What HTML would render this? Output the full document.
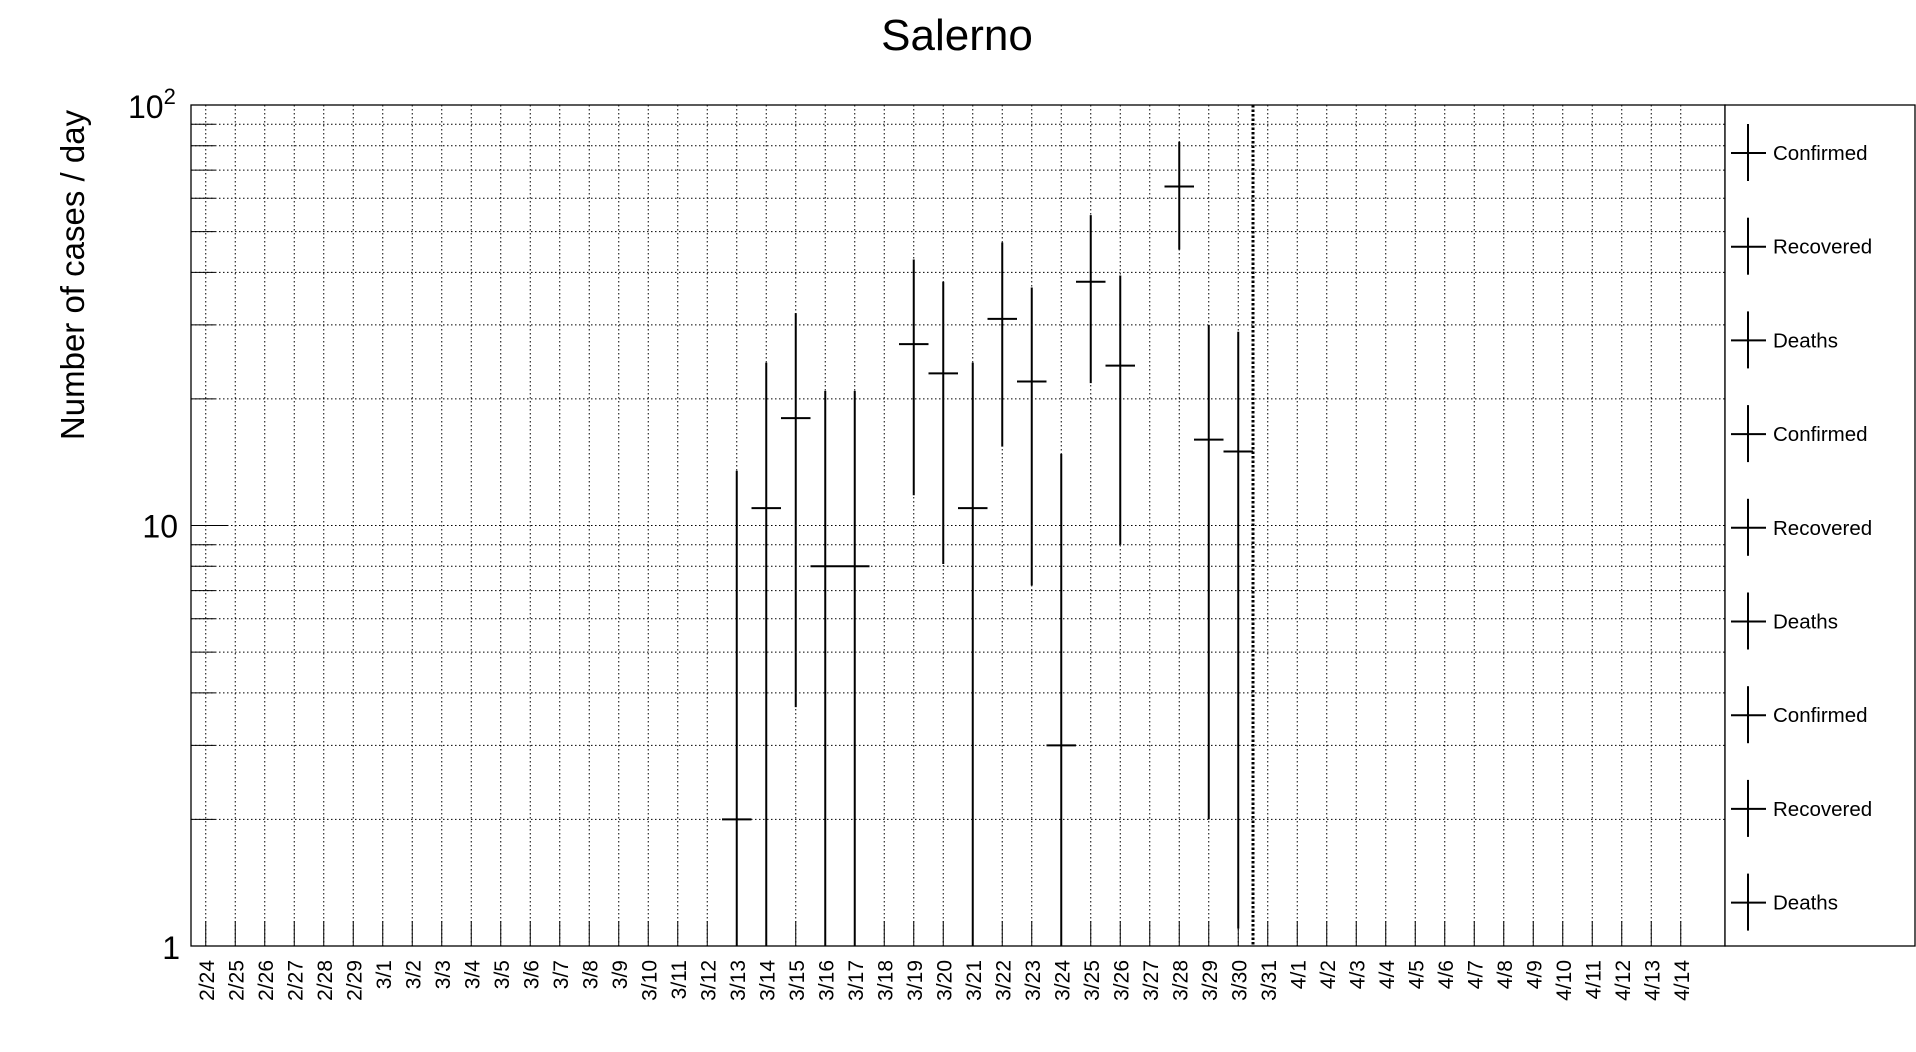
<!DOCTYPE html>
<html><head><meta charset="utf-8"><style>
body{margin:0;background:#fff;}
svg{display:block;font-family:"Liberation Sans",sans-serif;}
</style></head><body>
<svg id="chart" width="1916" height="1052">
<text x="957" y="50" font-size="44" text-anchor="middle">Salerno</text>
<text transform="translate(84,275) rotate(-90)" font-size="33" text-anchor="middle">Number of cases / day</text>
<g id="grid"></g><g id="axes"></g><g id="marks"></g><g id="legend"></g>
</svg>
<script>
const categories=["2/24","2/25","2/26","2/27","2/28","2/29","3/1","3/2","3/3","3/4","3/5","3/6","3/7","3/8","3/9","3/10","3/11","3/12","3/13","3/14","3/15","3/16","3/17","3/18","3/19","3/20","3/21","3/22","3/23","3/24","3/25","3/26","3/27","3/28","3/29","3/30","3/31","4/1","4/2","4/3","4/4","4/5","4/6","4/7","4/8","4/9","4/10","4/11","4/12","4/13","4/14"];
const pointDays=["3/13","3/14","3/15","3/16","3/17","3/19","3/20","3/21","3/22","3/23","3/24","3/25","3/26","3/28","3/29","3/30"];
const pointValues=[2,11,18,8,8,27,23,11,31,22,3,38,24,64,16,15];
const upperValues=[13.5,24.4,32,20.9,20.9,42.9,38,24.4,47.1,36.8,14.8,54.7,39.3,81.7,30,28.9];
const lowerValues=[0.5,0.5,3.7,0.5,0.5,11.8,8.1,0.5,15.4,7.2,0.5,21.8,9.0,45.3,2,1.1];
const legendLabels=["Confirmed","Recovered","Deaths","Confirmed","Recovered","Deaths","Confirmed","Recovered","Deaths"];
const yTickLabels=["1","10","10²"];
const cutDay="3/30";

const NS="http://www.w3.org/2000/svg";
const L=191,R=1725,T=105,B=946,BW=29.5,NB=52;
function xc(i){return L+BW*(i+0.5);}
function y(v){v=Math.max(1,Math.min(100,v));return B-(B-T)*Math.log10(v)/2;}
function mk(p,tag,at,name,txt){const e=document.createElementNS(NS,tag);for(const k in at)e.setAttribute(k,at[k]);


if(txt!==undefined)e.textContent=txt;p.appendChild(e);return e;}
const grid=document.getElementById('grid'),axes=document.getElementById('axes'),marks=document.getElementById('marks'),leg=document.getElementById('legend');
for(let d=0;d<2;d++)for(let m=1;m<=9;m++){const v=m*Math.pow(10,d);if(v===1)continue;const yy=y(v);
mk(grid,'line',{x1:L,x2:R,y1:yy,y2:yy,stroke:'#000','stroke-width':1,'stroke-dasharray':'1.5,2.5'},'y-gridline');
mk(axes,'line',{x1:L,x2:L+(m===1?36:24),y1:yy,y2:yy,stroke:'#000','stroke-width':1},'y-tick');}
mk(grid,'line',{x1:L,x2:R,y1:y(100),y2:y(100),stroke:'#000','stroke-width':1,'stroke-dasharray':'1.5,2.5'},'y-gridline');
mk(axes,'text',{x:180,y:959,'font-size':32,'text-anchor':'end'},'y-tick-label',yTickLabels[0]);
mk(axes,'text',{x:178,y:y(10)+12,'font-size':32,'text-anchor':'end'},'y-tick-label',yTickLabels[1]);
const t2=mk(axes,'text',{x:128,y:y(100)+13,'font-size':32},'y-tick-label');
t2.innerHTML='10<tspan dy="-14" font-size="22">2</tspan>';
categories.forEach((c,i)=>{const x=xc(i);
mk(grid,'line',{x1:x,x2:x,y1:T,y2:B,stroke:'#000','stroke-width':1,'stroke-dasharray':'1.5,2.5'},'x-gridline');
mk(axes,'line',{x1:x,x2:x,y1:B-25,y2:B,stroke:'#000','stroke-width':1},'x-tick');
mk(axes,'text',{transform:`translate(${x+8},960) rotate(-90)`,'font-size':21,'text-anchor':'end'},'x-tick-label',c);});
mk(axes,'rect',{x:L,y:T,width:R-L,height:B-T,fill:'none',stroke:'#000','stroke-width':1.3},'plot-frame');
const ci=categories.indexOf(cutDay)+1;
mk(axes,'line',{x1:L+BW*ci,x2:L+BW*ci,y1:T,y2:B,stroke:'#000','stroke-width':3,'stroke-dasharray':'2.5,2'},'cutoff-line');
pointDays.forEach((d,k)=>{const i=categories.indexOf(d),x=xc(i);
mk(marks,'line',{x1:x,x2:x,y1:y(upperValues[k]),y2:y(lowerValues[k]),stroke:'#000','stroke-width':2},'error-bar');
mk(marks,'line',{x1:x-BW/2,x2:x+BW/2,y1:y(pointValues[k]),y2:y(pointValues[k]),stroke:'#000','stroke-width':2},'data-point');});
mk(leg,'rect',{x:R,y:T,width:1915-R,height:B-T,fill:'#fff',stroke:'#000','stroke-width':1.3},'legend-box');
legendLabels.forEach((s,k)=>{const cy=153+k*93.7;
mk(leg,'line',{x1:1748,x2:1748,y1:cy-29,y2:cy+28,stroke:'#000','stroke-width':2},'legend-marker');
mk(leg,'line',{x1:1731,x2:1766,y1:cy,y2:cy,stroke:'#000','stroke-width':2},'legend-marker');
mk(leg,'text',{x:1773,y:cy+7,'font-size':20.5},'legend-entry',s);});
</script>
</body></html>
